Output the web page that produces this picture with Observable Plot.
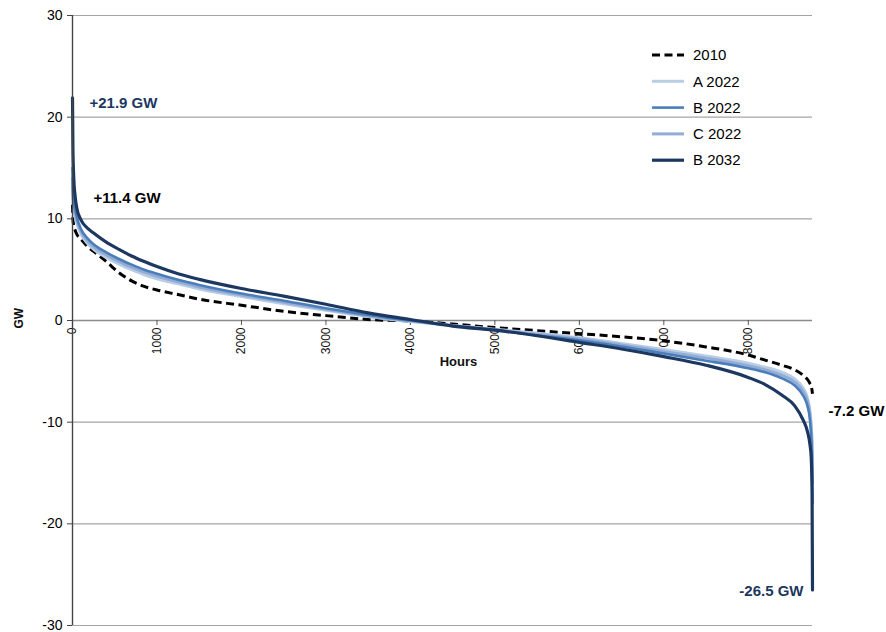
<!DOCTYPE html>
<html>
<head>
<meta charset="utf-8">
<script src="https://cdn.jsdelivr.net/npm/d3@7"></script>
<script src="https://cdn.jsdelivr.net/npm/@observablehq/plot@0.6"></script>
<style>
  html, body { margin: 0; padding: 0; background: #fff; }
  #chart { position: relative; width: 886px; height: 632px; }
  svg { font-family: "Liberation Sans", Arial, sans-serif; }
</style>
</head>
<body>
<div id="chart"></div>
<script>
// ---- Data ----
const hours = [0, 5, 15, 30, 50, 100, 175, 250, 400, 550, 700, 850, 1000, 1250, 1500, 2000, 2500, 3000, 3500, 4000, 4500, 5000, 5500, 6000, 6500, 7000, 7500, 8000, 8200, 8400, 8550, 8650, 8700, 8730, 8745, 8755, 8760];

const s2010  = [11.4, 10.0, 9.3, 8.9, 8.5, 8.0, 7.3, 6.8, 5.8, 4.7, 3.9, 3.35, 3.0, 2.55, 2.1, 1.5, 0.9, 0.48, 0.1, -0.05, -0.35, -0.7, -1.0, -1.3, -1.6, -2.0, -2.6, -3.4, -3.9, -4.4, -4.85, -5.4, -5.8, -6.2, -6.45, -6.9, -7.2];
const sA2022 = [13.2, 12.2, 11.2, 10.3, 9.6, 8.5, 7.6, 7.0, 6.2, 5.55, 5.0, 4.5, 4.1, 3.6, 3.1, 2.35, 1.65, 1.0, 0.4, -0.1, -0.5, -0.85, -1.25, -1.7, -2.25, -2.85, -3.5, -4.2, -4.6, -5.1, -5.75, -6.65, -7.6, -8.9, -10.3, -12, -14.5];
const sC2022 = [14.0, 12.7, 11.6, 10.7, 9.9, 8.75, 7.85, 7.25, 6.45, 5.8, 5.25, 4.75, 4.35, 3.8, 3.3, 2.5, 1.8, 1.1, 0.45, -0.05, -0.5, -0.9, -1.35, -1.8, -2.4, -3.05, -3.7, -4.45, -4.85, -5.4, -6.05, -7.0, -7.95, -9.3, -10.8, -13, -16];
const sB2022 = [15.0, 13.2, 12.0, 11.0, 10.2, 9.0, 8.1, 7.5, 6.7, 6.05, 5.5, 5.0, 4.6, 4.0, 3.5, 2.65, 1.95, 1.2, 0.55, 0.0, -0.5, -0.95, -1.45, -1.95, -2.55, -3.25, -3.95, -4.7, -5.1, -5.7, -6.4, -7.4, -8.4, -9.8, -11.5, -14, -18];
const sB2032 = [21.9, 17.0, 14.0, 12.3, 11.1, 9.9, 9.1, 8.6, 7.7, 7.0, 6.35, 5.8, 5.3, 4.6, 4.05, 3.15, 2.4, 1.6, 0.75, 0.1, -0.55, -0.95, -1.5, -2.15, -2.8, -3.55, -4.4, -5.6, -6.3, -7.35, -8.4, -9.8, -10.9, -12.2, -13.5, -17, -26.5];

const seriesNames = ["2010", "A 2022", "B 2022", "C 2022", "B 2032"];
const yTicks = [-30, -20, -10, 0, 10, 20, 30];
const xTicks = [0, 1000, 2000, 3000, 4000, 5000, 6000, 7000, 8000];

const annotations = [
  {hour: 0, gw: 21.9, label: "+21.9 GW", series: "B 2032"},
  {hour: 0, gw: 11.4, label: "+11.4 GW", series: "2010"},
  {hour: 8760, gw: -7.2, label: "-7.2 GW", series: "2010"},
  {hour: 8760, gw: -26.5, label: "-26.5 GW", series: "B 2032"}
];

// ---- Styles ----
const NAVY = "#1c3760";
const styles = {
  "2010":   {stroke: "#000000", width: 3, dash: "8,4.5"},
  "A 2022": {stroke: "#b9cde5", width: 3, dash: null},
  "B 2022": {stroke: "#4a7ebb", width: 2.6, dash: null},
  "C 2022": {stroke: "#93acd5", width: 3, dash: null},
  "B 2032": {stroke: NAVY, width: 3.2, dash: null}
};

const valuesBySeries = {"2010": s2010, "A 2022": sA2022, "B 2022": sB2022, "C 2022": sC2022, "B 2032": sB2032};
const table = [];
for (const name of seriesNames) {
  valuesBySeries[name].forEach((v, i) => table.push({series: name, hour: hours[i], gw: v}));
}

const drawOrder = ["2010", "A 2022", "C 2022", "B 2022", "B 2032"];
const lineMarks = drawOrder.map(name => Plot.line(table.filter(d => d.series === name), {
  x: "hour", y: "gw",
  stroke: styles[name].stroke,
  strokeWidth: styles[name].width,
  strokeDasharray: styles[name].dash,
  strokeLinejoin: "round",
  strokeLinecap: styles[name].dash ? "butt" : "round",
  curve: "monotone-x"
}));

const chart = Plot.plot({
  width: 886,
  height: 632,
  marginLeft: 72,
  marginRight: 74,
  marginTop: 15,
  marginBottom: 7,
  style: {fontFamily: "'Liberation Sans', Arial, sans-serif", background: "#fff", overflow: "visible"},
  x: {domain: [0, 8760], axis: null},
  y: {domain: [-30, 30]},
  marks: [
    Plot.ruleY(yTicks, {stroke: "#a5a5a5", strokeWidth: 1.2}),
    Plot.ruleY([0], {stroke: "#8c8c8c", strokeWidth: 1.4}),
    Plot.ruleX(xTicks, {x: d => d, y1: 0, y2: 0, insetBottom: -5, stroke: "#555", strokeWidth: 1}),
    Plot.text(xTicks, {x: d => d, y: 0, text: d => String(d), rotate: -90, textAnchor: "end", dy: 7, fontSize: 12, fill: "#111"}),
    ...lineMarks,
    Plot.ruleX([0], {stroke: "#444", strokeWidth: 1.4}),
    Plot.axisY({ticks: yTicks, tickSize: 5, tickPadding: 5, tickFormat: d => String(d), fontSize: 14, label: null, stroke: "#444"}),
    Plot.text(["GW"], {frameAnchor: "left", dx: -53, dy: 8, rotate: -90, text: d => d, fontSize: 12, fontWeight: "bold", fill: "#111"}),
    Plot.text(["Hours"], {frameAnchor: "middle", dx: 16, dy: 41, text: d => d, fontSize: 13, fontWeight: "bold", fill: "#111"}),
    Plot.text(annotations.filter(a => a.label === "+21.9 GW"), {x: "hour", y: "gw", text: "label", textAnchor: "start", dx: 17, dy: 5, fontSize: 15, fontWeight: "bold", fill: NAVY}),
    Plot.text(annotations.filter(a => a.label === "+11.4 GW"), {x: "hour", y: "gw", text: "label", textAnchor: "start", dx: 21, dy: -6, fontSize: 15, fontWeight: "bold", fill: "#000"}),
    Plot.text(annotations.filter(a => a.label === "-7.2 GW"), {x: "hour", y: "gw", text: "label", textAnchor: "start", dx: 16, dy: 17, fontSize: 15, fontWeight: "bold", fill: "#000"}),
    Plot.text(annotations.filter(a => a.label === "-26.5 GW"), {x: "hour", y: "gw", text: "label", textAnchor: "end", dx: -9, dy: 1, fontSize: 15, fontWeight: "bold", fill: NAVY})
  ]
});

document.getElementById("chart").appendChild(chart);

// ---- Legend (inside plot area, top right) ----
const svg = d3.select(chart);
const lg = svg.append("g").attr("class", "legend").attr("text-anchor", "start");
seriesNames.forEach((name, i) => {
  const y = 55 + i * 26.3;
  const st = styles[name];
  lg.append("line")
    .attr("x1", 652).attr("x2", 684).attr("y1", y).attr("y2", y)
    .attr("stroke", st.stroke).attr("stroke-width", st.width)
    .attr("stroke-dasharray", st.dash ? "8,4.5" : null);
  lg.append("text")
    .attr("x", 693).attr("y", y).attr("dy", "0.35em")
    .attr("text-anchor", "start")
    .attr("font-size", 15).attr("fill", "#000")
    .text(name);
});
</script>
</body>
</html>
